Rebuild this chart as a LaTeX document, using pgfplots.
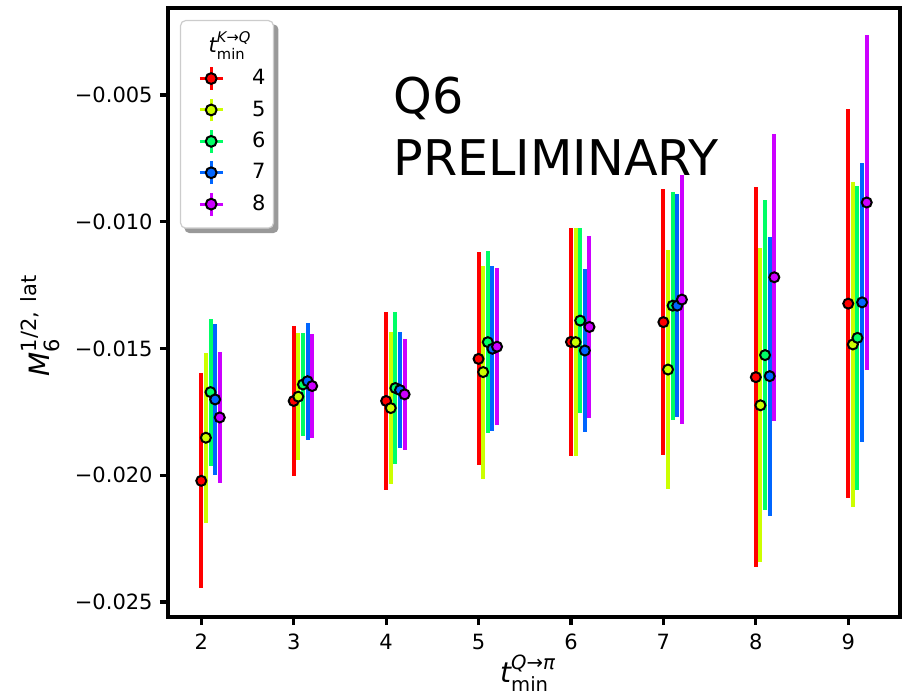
\documentclass[border=0pt]{standalone}
\usepackage{pgfplots}
\pgfplotsset{compat=1.18}
\usepackage{pgfplotstable}
\usepackage{amsmath}
\usepackage{fontspec}
\setmainfont{DejaVu Sans}
\usetikzlibrary{backgrounds}

\definecolor{c4}{HTML}{FF0000}
\definecolor{c5}{HTML}{CCFF00}
\definecolor{c6}{HTML}{00FF66}
\definecolor{c7}{HTML}{0066FF}
\definecolor{c8}{HTML}{CC00FF}

% columns: t_min^{Q->pi} (with small offset per series), value, error
\pgfplotstableread{
x    y        e
2.00 -0.02022 0.00424
3.00 -0.01707 0.00296
4.00 -0.01707 0.00350
5.00 -0.01541 0.00420
6.00 -0.01474 0.00450
7.00 -0.01396 0.00525
8.00 -0.01613 0.00750
9.00 -0.01323 0.00767
}\tfour
\pgfplotstableread{
x    y        e
2.05 -0.01852 0.00335
3.05 -0.01690 0.00250
4.05 -0.01735 0.00300
5.05 -0.01593 0.00420
6.05 -0.01475 0.00450
7.05 -0.01583 0.00470
8.05 -0.01724 0.00620
9.05 -0.01484 0.00640
}\tfive
\pgfplotstableread{
x    y        e
2.10 -0.01672 0.00290
3.10 -0.01642 0.00205
4.10 -0.01656 0.00300
5.10 -0.01475 0.00360
6.10 -0.01390 0.00365
7.10 -0.01331 0.00450
8.10 -0.01526 0.00610
9.10 -0.01458 0.00600
}\tsix
\pgfplotstableread{
x    y        e
2.15 -0.01701 0.00298
3.15 -0.01629 0.00230
4.15 -0.01664 0.00230
5.15 -0.01501 0.00325
6.15 -0.01508 0.00320
7.15 -0.01331 0.00440
8.15 -0.01609 0.00550
9.15 -0.01318 0.00550
}\tseven
\pgfplotstableread{
x    y        e
2.20 -0.01772 0.00260
3.20 -0.01648 0.00205
4.20 -0.01681 0.00220
5.20 -0.01493 0.00310
6.20 -0.01415 0.00360
7.20 -0.01307 0.00490
8.20 -0.01219 0.00567
9.20 -0.00924 0.00660
}\teight

\pgfplotsset{
  ebar/.style={only marks, mark=none, forget plot,
    error bars/y dir=both, error bars/y explicit,
    error bars/error mark=none,
    error bars/error bar style={line width=2pt, draw=#1, solid}},
  edot/.style={only marks, mark=*, mark size=2.5pt,
    mark options={fill=#1, draw=black, line width=1pt},
    legend image code/.code={
      \path (-11pt,0pt);
      \draw[draw=#1, line width=1.5pt] (-5.7pt,0pt) -- (5.7pt,0pt) (0pt,-5.7pt) -- (0pt,5.7pt);
      \filldraw[fill=#1, draw=black, line width=1pt] (0pt,0pt) circle (2.7pt);}},
}

\newcommand{\lblsmall}[1]{\text{\fontsize{10.5}{12}\selectfont #1}}

\begin{document}
\begin{tikzpicture}
\begin{axis}[
  name=ax,
  scale only axis,
  width=366pt, height=304.5pt,
  xmin=1.64, xmax=9.56,
  ymin=-0.025592, ymax=-0.001568,
  axis line style={line width=1.6pt},
  tick style={line width=1.6pt, black},
  tick align=outside,
  major tick length=4pt,
  xtick={2,3,4,5,6,7,8,9},
  ytick={-0.025,-0.020,-0.015,-0.010,-0.005},
  yticklabels={−0.025,−0.020,−0.015,−0.010,−0.005},
  xtick pos=bottom, ytick pos=left,
  minor tick num=0,
  /pgf/number format/assume math mode=true,
  ticklabel style={font=\fontsize{10.5}{12}\selectfont},
  xticklabel style={anchor=north, inner sep=0pt, yshift=-4.5pt},
  yticklabel style={anchor=east, inner sep=0pt, xshift=-3.5pt},
  label style={font=\fontsize{14}{16}\selectfont},
  ylabel={$\text{\itshape M}_{\lblsmall{6}}^{\lblsmall{1/2,\hspace{4.5pt}lat}}$},
  ylabel style={at={([xshift=-54pt, yshift=-6.5pt]axis description cs:0,0.5)}, anchor=south, inner sep=0pt},
  xlabel={$\text{\itshape t}_{\text{min}}^{\text{\itshape Q}\text{→}\text{\itshape π}}$},
  xlabel style={at={([xshift=-3pt, yshift=-19pt]axis description cs:0.5,0)}, anchor=north, inner sep=0pt},
  legend style={
    name=leg,
    at={(axis description cs:0,1)}, anchor=north west,
    xshift=6pt, yshift=-6pt,
    draw=black!20, line width=0.6pt, rounded corners=2.5pt,
    fill=white,
    inner xsep=4pt, inner ysep=5.5pt,
    font=\fontsize{10.5}{12}\selectfont,
    nodes={inner sep=0pt},
    row sep=2.8pt, column sep=14pt,
  },
  legend cell align=left,
]
% error bars first, so that every marker lies above every bar
\addplot[ebar=c4] table[x=x, y=y, y error=e] {\tfour};
\addplot[ebar=c5] table[x=x, y=y, y error=e] {\tfive};
\addplot[ebar=c6] table[x=x, y=y, y error=e] {\tsix};
\addplot[ebar=c7] table[x=x, y=y, y error=e] {\tseven};
\addplot[ebar=c8] table[x=x, y=y, y error=e] {\teight};

% legend heading: an invisible image that keeps some room below it
\addlegendimage{legend image code/.code={\path (0pt,-8pt) (0pt,2pt);}}
\addlegendentry{\hspace*{-23pt}$\text{\itshape t}_{\text{min}}^{\text{\itshape K}\text{→}\text{\itshape Q}}$}
\addplot[edot=c4] table[x=x, y=y] {\tfour};   \addlegendentry{4}
\addplot[edot=c5] table[x=x, y=y] {\tfive};   \addlegendentry{5}
\addplot[edot=c6] table[x=x, y=y] {\tsix};    \addlegendentry{6}
\addplot[edot=c7] table[x=x, y=y] {\tseven};  \addlegendentry{7}
\addplot[edot=c8] table[x=x, y=y] {\teight};  \addlegendentry{8}
\end{axis}
% shadow of the legend box
\begin{pgfonlayer}{background}
  \fill[black!40, rounded corners=2.5pt]
    ([xshift=2.2pt, yshift=-2.2pt]leg.south west) rectangle
    ([xshift=2.2pt, yshift=-2.2pt]leg.north east);
\end{pgfonlayer}
\node[anchor=base west, inner sep=0pt, font=\fontsize{24.6}{29}\selectfont]
  at ([xshift=112.5pt, yshift=-52.7pt]ax.north west) {Q6};
\node[anchor=base west, inner sep=0pt, font=\fontsize{24.6}{29}\selectfont]
  at ([xshift=112.5pt, yshift=-83.8pt]ax.north west) {PRELIMINARY};
\pgfresetboundingbox
\path[use as bounding box] ([xshift=-84pt, yshift=-37.5pt]ax.south west)
  rectangle ([xshift=1pt, yshift=4pt]ax.north east);
\end{tikzpicture}
\end{document}
